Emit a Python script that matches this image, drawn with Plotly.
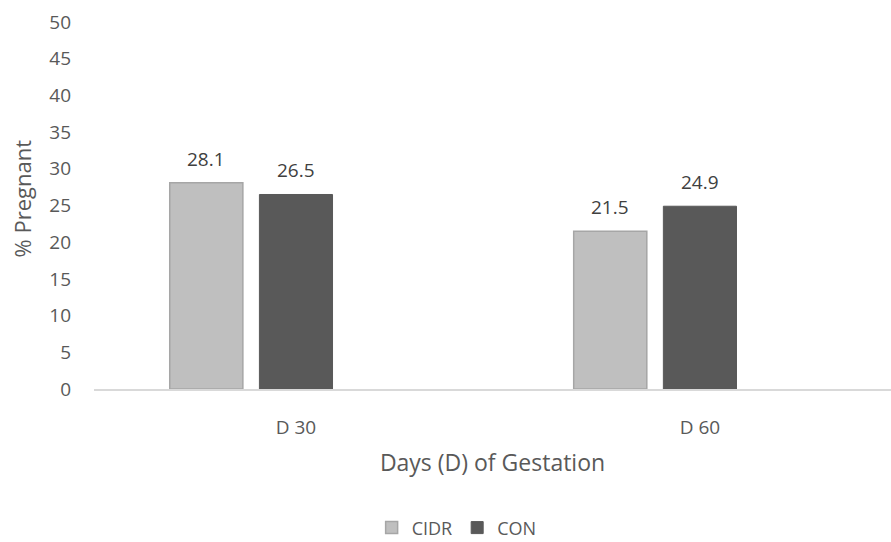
import plotly.graph_objects as go

categories = ["D 30", "D 60"]
cidr = [28.1, 21.5]
con = [26.5, 24.9]
series_names = ["CIDR", "CON"]
y_ticks = [0, 5, 10, 15, 20, 25, 30, 35, 40, 45, 50]

FONT = "Open Sans"
GREY_TXT = "#595959"
xpos = list(range(len(categories)))
W = 0.181
offs = [-0.3125, -0.0905]

fig = go.Figure()
fig.add_trace(go.Bar(x=xpos, y=cidr, name=series_names[0], width=W, offset=offs[0],
                     marker=dict(color="#bfbfbf", line=dict(color="#a6a6a6", width=1.5))))
fig.add_trace(go.Bar(x=xpos, y=con, name=series_names[1], width=W, offset=offs[1],
                     marker=dict(color="#595959", line=dict(color="#595959", width=1))))

for vals, off in [(cidr, offs[0]), (con, offs[1])]:
    for xi, v in zip(xpos, vals):
        fig.add_annotation(x=xi + off + W / 2, y=v, text=f"{v:.1f}", showarrow=False,
                           yanchor="bottom", yshift=9,
                           font=dict(family=FONT, size=19, color="#404040"))

fig.add_annotation(xref="paper", yref="paper", x=-0.09, y=0.52, text="% Pregnant",
                   textangle=-90, showarrow=False, xanchor="center", yanchor="middle",
                   font=dict(family=FONT, size=22, color=GREY_TXT))

fig.update_layout(
    width=891, height=542,
    margin=dict(l=94, r=0, t=22, b=153),
    plot_bgcolor="white", paper_bgcolor="white",
    showlegend=True,
    legend=dict(orientation="h", xref="paper", x=0.455, yref="container", y=0.026,
                xanchor="center", yanchor="middle",
                font=dict(family=FONT, size=18, color=GREY_TXT), itemwidth=30,
                traceorder="normal"),
    xaxis=dict(range=[-0.5, 1.473], tickvals=xpos, ticktext=categories,
               showgrid=False, zeroline=False, showline=True, linecolor="#d9d9d9",
               linewidth=1.5, ticks="", ticklabelstandoff=20,
               tickfont=dict(family=FONT, size=19, color=GREY_TXT),
               title=dict(text="Days (D) of Gestation", standoff=16,
                          font=dict(family=FONT, size=23, color=GREY_TXT))),
    yaxis=dict(range=[0, 50], tickvals=y_ticks, showgrid=False, zeroline=False,
               showline=False, ticks="", ticklabelstandoff=22,
               tickfont=dict(family=FONT, size=19, color=GREY_TXT)),
)

fig.write_html("out.html", config={"displayModeBar": False},
               post_script="document.body.style.margin='0';document.body.style.overflow='hidden';")
